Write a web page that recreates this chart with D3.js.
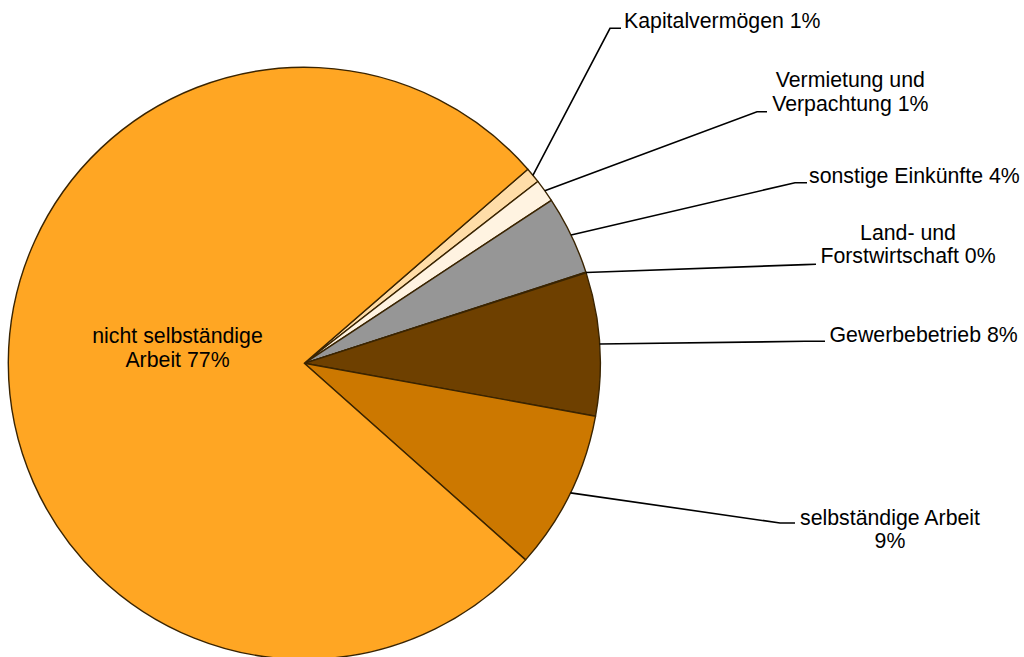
<!DOCTYPE html>
<html>
<head>
<meta charset="utf-8">
<script src="https://cdn.jsdelivr.net/npm/d3@7"></script>
<style>
  html, body { margin: 0; padding: 0; background: #fff; }
  svg { display: block; }
  text { font-family: "Liberation Sans", Arial, sans-serif; font-size: 21.3px; fill: #000; }
</style>
</head>
<body>
<svg id="chart" width="1024" height="657"></svg>
<script>
// ---- data ----
const categories = [
  "Kapitalvermögen",
  "Vermietung und Verpachtung",
  "sonstige Einkünfte",
  "Land- und Forstwirtschaft",
  "Gewerbebetrieb",
  "selbständige Arbeit",
  "nicht selbständige Arbeit"
];
const values = [0.85, 1.25, 4.3, 0.04, 7.8, 8.7, 77.06];
const percentLabels = ["1%", "1%", "4%", "0%", "8%", "9%", "77%"];
const labelLines = [
  ["Kapitalvermögen 1%"],
  ["Vermietung und", "Verpachtung 1%"],
  ["sonstige Einkünfte 4%"],
  ["Land- und", "Forstwirtschaft 0%"],
  ["Gewerbebetrieb 8%"],
  ["selbständige Arbeit", "9%"],
  ["nicht selbständige", "Arbeit 77%"]
];
const colors = ["#FFDDA8", "#FFF3E1", "#969696", "#5A3A10", "#6E4000", "#CC7800", "#FFA623"];

// ---- layout ----
const cx = 304.3, cy = 363.3, R = 296;
const startDeg = 49.03;
const labelLayout = [
  { anchor: "start",  x: 624,   y: 28.3,  leader: [[610, 28.3], [621, 28.3]] },
  { anchor: "middle", x: 850.3, y: 87.3,  leader: [[757, 111.7], [767, 111.7]] },
  { anchor: "start",  x: 809,   y: 182.7, leader: [[795, 182.7], [807, 182.7]] },
  { anchor: "middle", x: 908,   y: 240,   leader: [[805, 264.6], [816, 264.3]] },
  { anchor: "start",  x: 829.5, y: 341.7, leader: [[805, 341.3], [825, 341.3]] },
  { anchor: "middle", x: 890,   y: 525,   leader: [[780, 523], [795, 523]] },
  { anchor: "middle", x: 177.5, y: 343.3, leader: null }
];
const lineHeight = 23.3;

const svg = d3.select("#chart");
const g = svg.append("g").attr("transform", `translate(${cx},${cy})`);

const data = categories.map((c, i) => ({ name: c, value: values[i], i }));
const startA = startDeg * Math.PI / 180;
const pie = d3.pie().sort(null).value(d => d.value)
  .startAngle(startA).endAngle(startA + 2 * Math.PI);
const arcs = pie(data);
const arc = d3.arc().innerRadius(0).outerRadius(R);
const rimArc = d3.arc().innerRadius(R).outerRadius(R);

g.selectAll("path.slice").data(arcs).enter().append("path")
  .attr("class", "slice")
  .attr("d", arc)
  .attr("fill", d => colors[d.data.i])
  .attr("stroke", "#3A2400")
  .attr("stroke-width", 1.4)
  .attr("stroke-linejoin", "round");

// leaders
arcs.forEach(a => {
  const L = labelLayout[a.data.i];
  if (!L.leader) return;
  const p = rimArc.centroid(a);
  const pts = [[p[0] + cx, p[1] + cy], ...L.leader];
  svg.append("path")
    .attr("d", d3.line()(pts))
    .attr("fill", "none")
    .attr("stroke", "#000")
    .attr("stroke-width", 1.6);
});

// labels
arcs.forEach(a => {
  const L = labelLayout[a.data.i];
  const t = svg.append("text")
    .attr("text-anchor", L.anchor)
    .attr("x", L.x).attr("y", L.y);
  labelLines[a.data.i].forEach((ln, k) => {
    t.append("tspan").attr("x", L.x).attr("y", L.y + k * lineHeight).text(ln);
  });
});
</script>
</body>
</html>
